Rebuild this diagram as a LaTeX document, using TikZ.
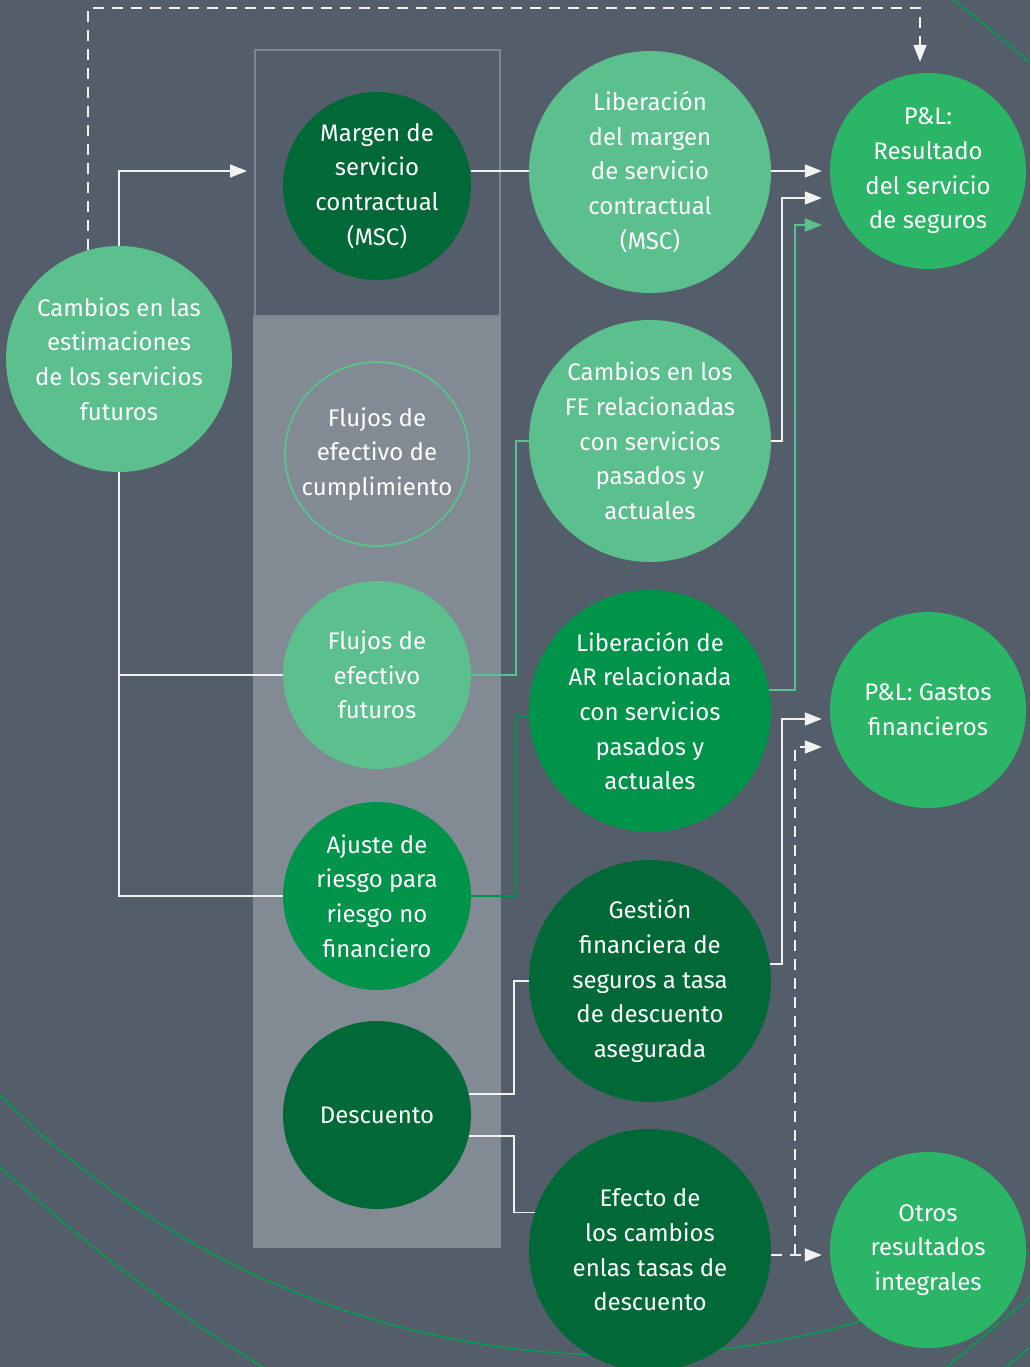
\documentclass[tikz,border=0pt]{standalone}
\usepackage{fontspec}
\setmainfont{Fira Sans}
\usetikzlibrary{arrows.meta}
\definecolor{bg}{HTML}{535E6A}
\definecolor{panel}{HTML}{828A93}
\definecolor{boxline}{HTML}{7E8791}
\definecolor{lgreen}{HTML}{5BBF8E}
\definecolor{mgreen}{HTML}{00934A}
\definecolor{dgreen}{HTML}{006937}
\definecolor{pgreen}{HTML}{2BB566}
\definecolor{arcgreen}{HTML}{00A050}
\definecolor{wl}{HTML}{F2F2F2}
\tikzset{
  bubble/.style={circle, inner sep=0pt, align=center, text=white,
    font=\fontsize{24}{34.7}\selectfont},
  small/.style={bubble, minimum size=188pt},
  big/.style={bubble, minimum size=242pt},
  pl/.style={bubble, minimum size=196pt, fill=pgreen},
  wline/.style={draw=wl, line width=1.6pt},
  gline/.style={draw=lgreen, line width=1.8pt},
  mline/.style={draw=mgreen, line width=1.8pt},
  dline/.style={draw=wl, line width=1.6pt, dash pattern=on 11pt off 8pt},
  tip/.style={-{Triangle[length=17pt,width=13pt]}},
  deco/.style={draw=arcgreen, line width=1.5pt}
}
\begin{document}
\begin{tikzpicture}[x=1pt,y=-1pt]
\useasboundingbox (0,0) rectangle (1030,1367);
\fill[bg] (0,0) rectangle (1030,1367);
\begin{scope}
\clip (0,0) rectangle (1030,1367);
\draw[deco] (620,486) circle (869);
\draw[deco] (0,1167) .. controls (80,1240) and (170,1310) .. (263,1367);
\draw[deco] (953,0) .. controls (980,20) and (1005,42) .. (1030,63);
\draw[deco] (1030,1297) -- (947,1367);
\draw[deco] (1030,1347) -- (1006,1367);
\end{scope}
% panel and box
\fill[panel] (253,316) rectangle (501,1248);
\node[draw=boxline, line width=2pt, minimum width=245pt, minimum height=266pt, inner sep=0pt] (mscbox) at (377.5,183) {};
% left column
\node[big, minimum size=226pt, fill=lgreen] (cambios) at (119,359) {Cambios en las\\estimaciones\\de los servicios\\futuros};
% middle column
\node[small, fill=dgreen] (msc) at (377,186) {Margen de\\servicio\\contractual\\(MSC)};
\node[small, minimum size=184pt, draw=lgreen, line width=2pt] (fec) at (377,454) {Flujos de\\efectivo de\\cumplimiento};
\node[small, fill=lgreen] (fff) at (377,675) {Flujos de\\efectivo\\futuros};
\node[small, fill=mgreen] (ajuste) at (377,896) {Ajuste de\\riesgo para\\riesgo no\\financiero};
\node[small, fill=dgreen] (desc) at (377,1115) {Descuento};
% right-middle column
\node[big, fill=lgreen] (lib1) at (650,172) {Liberación\\del margen\\de servicio\\contractual\\(MSC)};
\node[big, fill=lgreen] (cfe) at (650,441) {Cambios en los\\FE relacionadas\\con servicios\\pasados y\\actuales};
\node[big, fill=mgreen] (lar) at (650,711) {Liberación de\\AR relacionada\\con servicios\\pasados y\\actuales};
\node[big, fill=dgreen] (gest) at (650,981) {Gestión\\financiera de\\seguros a tasa\\de descuento\\asegurada};
\node[big, fill=dgreen] (efecto) at (650,1250) {Efecto de\\los cambios\\enlas tasas de\\descuento};
% right column
\node[pl] (pl1) at (928,171) {P\&L:\\Resultado\\del servicio\\de seguros};
\node[pl] (pl2) at (928,710) {P\&L: Gastos\\financieros};
\node[pl] (otros) at (928,1250) {Otros\\resultados\\integrales};
\coordinate (top) at (0,8);
% connectors
\draw[wline,tip] (cambios.north) |- ([xshift=-7pt]mscbox.west |- pl1.west);
\draw[dline,tip] (cambios.106) -- (cambios.106 |- top) -| ([xshift=-8pt,yshift=11pt]pl1.north);
\draw[wline] (cambios.south) |- (ajuste.west);
\draw[wline] (cambios.south |- fff.west) -- (fff.west);
\draw[wline] (pl1.west -| msc.east) -- (pl1.west -| lib1.west);
\draw[wline,tip] (pl1.west -| lib1.east) -- ([xshift=-8pt]pl1.west);
\draw[wline,tip] (cfe.east) -- ++(11,0) |- ([xshift=-8pt,yshift=-27pt]pl1.west);
\draw[gline] (fff.east) -- ++(45,0) |- (cfe.west);
\draw[gline,tip] (lar.10) -- ++(26,0) |- ([xshift=-8pt,yshift=-54pt]pl1.west);
\draw[mline] (ajuste.east) -- ++(45,0) |- ([yshift=-5pt]lar.west);
\draw[wline,tip] (gest.8) -- ++(12,0) |- ([xshift=-8pt,yshift=-9pt]pl2.west);
\draw[wline] (desc.13) -- ++(45,0) |- (gest.west);
\draw[wline] (desc.-13) -- ++(45,0) |- (efecto.162);
\draw[dline,tip] ([yshift=-5pt]efecto.east) -- ([xshift=-8pt,yshift=-5pt]otros.west);
\draw[dline,tip] ([xshift=24pt,yshift=-5pt]efecto.east) |- ([xshift=-8pt,yshift=-37pt]pl2.west);
\end{tikzpicture}
\end{document}
